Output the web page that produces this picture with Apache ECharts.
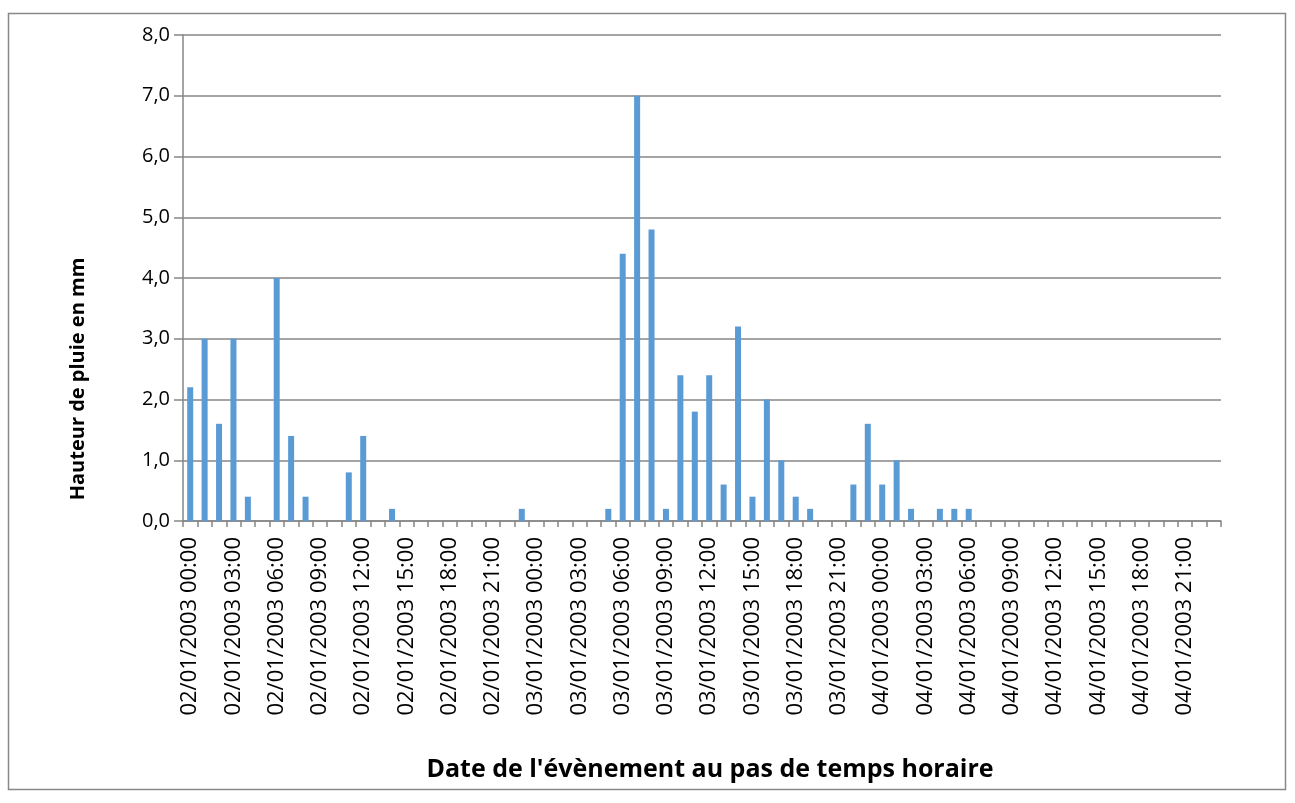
<!DOCTYPE html>
<html>
<head>
<meta charset="utf-8">
<script src="https://cdn.jsdelivr.net/npm/echarts@6/dist/echarts.min.js"></script>
<style>
html,body{margin:0;padding:0;background:#fff;}
#chart{width:1295px;height:803px;}
</style>
</head>
<body>
<div id="chart"></div>
<script>
// ---- data ----
const days = ['02/01/2003', '03/01/2003', '04/01/2003'];
const hours = ['00:00','01:00','02:00','03:00','04:00','05:00','06:00','07:00','08:00','09:00','10:00','11:00',
               '12:00','13:00','14:00','15:00','16:00','17:00','18:00','19:00','20:00','21:00','22:00','23:00'];
const categories = [];
days.forEach(d => hours.forEach(h => categories.push(d + ' ' + h)));

// hourly rainfall (mm), 02/01/2003 00:00 -> 04/01/2003 23:00
const rain = [
  2.2, 3.0, 1.6, 3.0, 0.4, 0.0, 4.0, 1.4, 0.4, 0.0, 0.0, 0.8,
  1.4, 0.0, 0.2, 0.0, 0.0, 0.0, 0.0, 0.0, 0.0, 0.0, 0.0, 0.2,
  0.0, 0.0, 0.0, 0.0, 0.0, 0.2, 4.4, 7.0, 4.8, 0.2, 2.4, 1.8,
  2.4, 0.6, 3.2, 0.4, 2.0, 1.0, 0.4, 0.2, 0.0, 0.0, 0.6, 1.6,
  0.6, 1.0, 0.2, 0.0, 0.2, 0.2, 0.2, 0.0, 0.0, 0.0, 0.0, 0.0,
  0.0, 0.0, 0.0, 0.0, 0.0, 0.0, 0.0, 0.0, 0.0, 0.0, 0.0, 0.0
];
const yTicks = [0, 1, 2, 3, 4, 5, 6, 7, 8];
const yTitle = 'Hauteur de pluie en mm';
const xTitle = "Date de l'évènement au pas de temps horaire";

// ---- chart ----
const chart = echarts.init(document.getElementById('chart'), null, {renderer: 'canvas'});
const axisGray = '#868686';
chart.setOption({
  animation: false,
  backgroundColor: '#ffffff',
  grid: {left: 183, right: 74, top: 35, bottom: 282, containLabel: false},
  xAxis: {
    type: 'category',
    data: categories,
    boundaryGap: true,
    axisLine: {show: true, lineStyle: {color: axisGray, width: 1.5}},
    axisTick: {show: true, interval: 0, length: 6, lineStyle: {color: axisGray, width: 1.5}},
    axisLabel: {
      interval: 2, rotate: 90, margin: 16,
      fontFamily: 'Open Sans', fontSize: 22, color: '#000'
    },
    name: xTitle,
    nameLocation: 'middle',
    nameGap: 236,
    nameTextStyle: {fontFamily: 'Open Sans', fontWeight: 'bold', fontSize: 25, color: '#000', padding: [0, 0, 0, 16]}
  },
  yAxis: {
    type: 'value',
    min: yTicks[0], max: yTicks[yTicks.length - 1], interval: 1,
    axisLine: {show: true, lineStyle: {color: axisGray, width: 1.5}},
    axisTick: {show: true, inside: false, length: 9, lineStyle: {color: axisGray, width: 1.5}},
    splitLine: {show: true, lineStyle: {color: axisGray, width: 1.5}},
    axisLabel: {
      margin: 13, fontFamily: 'Open Sans', fontSize: 20, color: '#000',
      formatter: v => v.toFixed(1).replace('.', ',')
    }
  },
  series: [{
    type: 'bar',
    data: rain,
    barWidth: 6,
    itemStyle: {color: '#5B9BD5'}
  }],
  graphic: [
    {
      type: 'rect', silent: true,
      shape: {x: 8.5, y: 13.5, width: 1277, height: 776},
      style: {fill: 'none', stroke: '#888888', lineWidth: 1.5}
    },
    {
      type: 'text', silent: true,
      x: 78, y: 379, rotation: Math.PI / 2,
      style: {
        text: yTitle, align: 'center', verticalAlign: 'middle',
        font: 'bold 20px "Open Sans"', fill: '#000'
      }
    }
  ]
});
</script>
</body>
</html>
